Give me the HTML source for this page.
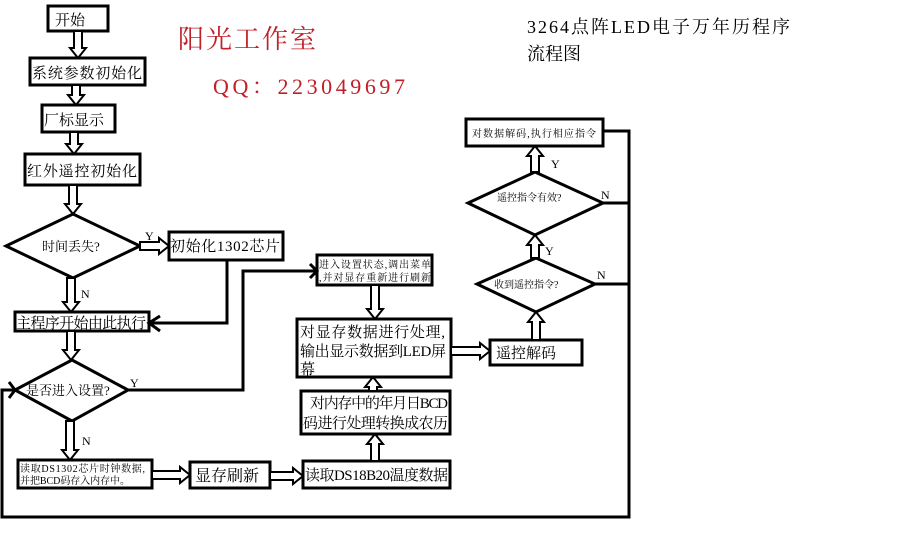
<!DOCTYPE html>
<html><head><meta charset="utf-8"><style>
body{margin:0;background:#fff;}
svg{display:block;}
text{font-family:"Liberation Serif","Noto Serif CJK SC","Noto Sans CJK SC",serif;fill:#000;}
</style></head><body>
<svg id="s" width="899" height="549" viewBox="0 0 899 549" xmlns="http://www.w3.org/2000/svg">
<g fill="#fff" stroke="#000" stroke-width="3">
<rect x="48" y="6" width="60" height="25"/>
<rect x="30" y="58" width="115" height="27"/>
<rect x="42" y="105" width="73" height="27"/>
<rect x="25" y="154" width="115" height="31"/>
<polygon points="6,246 73,214 140,246 73,278"/>
<rect x="169" y="232" width="114" height="28"/>
<rect x="15" y="312" width="134" height="19"/>
<polygon points="15,390 72,360 128,390 72,421"/>
<rect x="18" y="460" width="134" height="28"/>
<rect x="190" y="462" width="80" height="26"/>
<rect x="303" y="461" width="147" height="27"/>
<rect x="301" y="391" width="149" height="43"/>
<rect x="297" y="319" width="154" height="58"/>
<rect x="317" y="255" width="115" height="30"/>
<rect x="490" y="340" width="92" height="25"/>
<polygon points="477,284 536,258 595,284 536,312"/>
<polygon points="468,203 535,172 603,203 535,235"/>
<rect x="466" y="119" width="137" height="27"/>
</g>
<g fill="none" stroke="#000" stroke-width="3">
<polyline points="603,131 629,131 629,517 2,517 2,390 15,390"/>
<line x1="603" y1="203" x2="629" y2="203"/>
<line x1="595" y1="284" x2="629" y2="284"/>
<polyline points="128,390 243,390 243,271 317,271"/>
<polyline points="227,260 227,323 149,323"/>
<polyline points="160,316 149,323 160,331"/>
<polyline points="310,264 317,271 310,278"/>
<polyline points="9,382 15,390 9,398"/>
</g>
<g id="arr" fill="#fff" stroke="#000" stroke-width="2"></g>
<g font-size="15">
<text x="55" y="25">开始</text>
<text x="32" y="78" textLength="110">系统参数初始化</text>
<text x="44" y="125">厂标显示</text>
<text x="27" y="176" textLength="110">红外遥控初始化</text>
<text x="42" y="251" font-size="13">时间丢失?</text>
<text x="170" y="251" textLength="110">初始化1302芯片</text>
<text x="16" y="328" textLength="130">主程序开始由此执行</text>
<text x="26" y="395" font-size="13">是否进入设置?</text>
<text x="20" y="472" font-size="10" textLength="125">读取DS1302芯片时钟数据,</text>
<text x="20" y="484" font-size="10" textLength="110">并把BCD码存入内存中。</text>
<text x="195" y="481" font-size="16">显存刷新</text>
<text x="305" y="480" textLength="143">读取DS18B20温度数据</text>
<text x="310" y="408" textLength="138">对内存中的年月日BCD</text>
<text x="303" y="428" textLength="145">码进行处理转换成农历</text>
<text x="300" y="337" textLength="145">对显存数据进行处理,</text>
<text x="300" y="356" textLength="146">输出显示数据到LED屏</text>
<text x="300" y="374">幕</text>
<text x="319" y="268" font-size="10" textLength="112">进入设置状态,调出菜单</text>
<text x="319" y="281" font-size="10" textLength="112">,并对显存重新进行刷新</text>
<text x="496" y="358" font-size="15">遥控解码</text>
<text x="494" y="288" font-size="10">收到遥控指令?</text>
<text x="497" y="201" font-size="10">遥控指令有效?</text>
<text x="472" y="137" font-size="10" textLength="124">对数据解码,执行相应指令</text>
<text x="145" y="240" font-size="12">Y</text>
<text x="81" y="298" font-size="12">N</text>
<text x="130" y="387" font-size="12">Y</text>
<text x="82" y="445" font-size="12">N</text>
<text x="551" y="168" font-size="12">Y</text>
<text x="545" y="255" font-size="12">Y</text>
<text x="601" y="199" font-size="12">N</text>
<text x="597" y="279" font-size="12">N</text>
<text x="178" y="48" font-size="26" textLength="138" style="fill:#c0202a">阳光工作室</text>
<text x="213" y="94" font-size="22" textLength="192" style="fill:#c0202a">QQ：223049697</text>
<text x="527" y="33" font-size="18" textLength="263">3264点阵LED电子万年历程序</text>
<text x="527" y="60" font-size="18">流程图</text>
</g>
</svg>
<script>
var g=document.getElementById('arr'),NS='http://www.w3.org/2000/svg';
function P(pts){var p=document.createElementNS(NS,'polygon');p.setAttribute('points',pts.map(function(a){return a.join(',')}).join(' '));g.appendChild(p);}
function V(cx,a,b){var d=b>a?1:-1,h=b-10*d;P([[cx-4,a],[cx+4,a],[cx+4,h],[cx+8,h],[cx,b],[cx-8,h],[cx-4,h]]);}
function H(cy,a,b){var d=b>a?1:-1,h=b-10*d;P([[a,cy-4],[a,cy+4],[h,cy+4],[h,cy+8],[b,cy],[h,cy-8],[h,cy-4]]);}
V(78,31,58);V(76,85,105);V(74,132,154);V(73,185,214);V(71,278,312);V(71,331,360);V(70,421,460);
H(246,140,169);H(475,152,190);H(476,270,303);V(375,461,434);V(373,391,377);V(375,285,319);H(351,451,490);
V(536,340,312);V(535,258,235);V(535,172,146);
</script>
</body></html>
